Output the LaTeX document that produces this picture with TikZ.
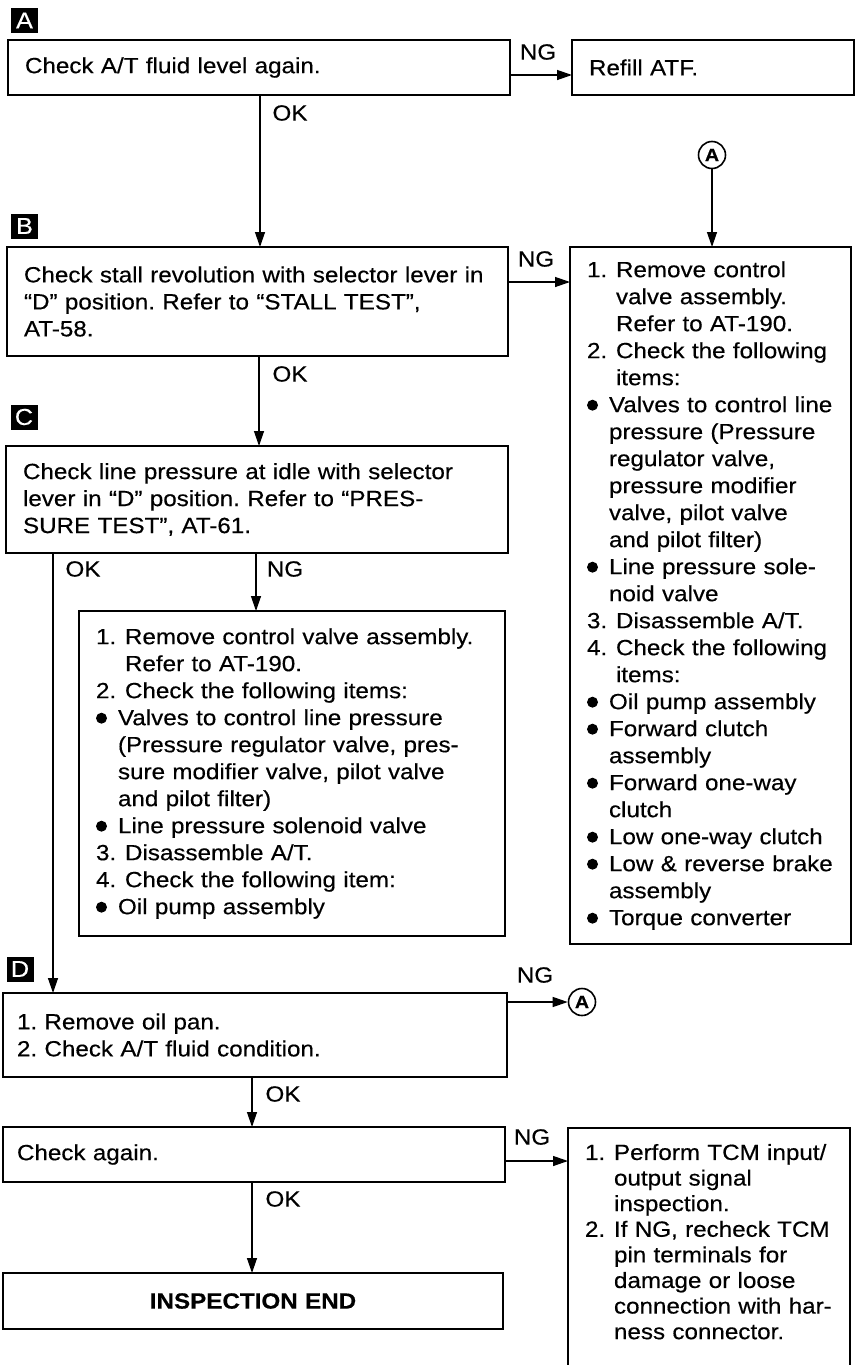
\documentclass[tikz,border=0pt]{standalone}
\usepackage{fontspec}
\setmainfont{Liberation Sans}[FakeStretch=1.1,FakeBold=0.4]
\usetikzlibrary{arrows.meta,calc}
\frenchspacing
\newcommand\mainfs{\fontsize{22}{27}\selectfont}
\newcommand\labfs{\fontsize{23}{23}\selectfont}
\newcommand\circfs{\fontsize{18}{18}\selectfont\bfseries}
\newcommand\numi[2]{\makebox[29pt][l]{#1}#2}
\newcommand\numc[1]{\hspace*{29pt}#1}
\newcommand\bulmark{\tikz[baseline=0pt]\fill (5.5pt,7pt) circle[radius=5.5pt];}
\newcommand\buli[1]{\makebox[22pt][l]{\bulmark}#1}
\newcommand\bulc[1]{\hspace*{22pt}#1}
\tikzset{
  box/.style={draw, line width=1.5pt, rectangle, anchor=north west, inner xsep=17pt,
    inner ysep=0pt, outer sep=0pt, align=left, font=\mainfs},
  lbl/.style={fill=black, text=white, inner sep=0pt, minimum width=27pt,
    minimum height=25pt, font=\labfs},
  conn/.style={line width=1.3pt, -{Triangle[length=15pt,width=10pt]}},
  tag/.style={font=\mainfs, inner sep=0pt},
  circA/.style={circle, draw, line width=1.6pt, inner sep=0pt, minimum size=27pt, font=\circfs},
}
\begin{document}
\begin{tikzpicture}[x=1pt,y=-1pt]
\useasboundingbox[fill=white] (0,0) rectangle (856,1365);

% section labels
\node[lbl] (lA) at (24.5,20.5) {A};
\node[lbl] (lB) at (24.5,226) {B};
\node[lbl] (lC) at (24,417) {C};
\node[lbl] (lD) at (20,969) {D};

% boxes
\node[box, minimum width=502pt, text width=468pt, minimum height=55pt] (b1) at (8,40)
  {Check A/T fluid level again.};
\node[box, minimum width=282pt, text width=248pt, minimum height=55pt] (refill) at (572,40)
  {Refill ATF.};
\node[box, minimum width=501pt, text width=467pt, minimum height=109pt] (bB) at (7,247)
  {Check stall revolution with selector lever in\\
   “D” position. Refer to “STALL TEST”,\\
   AT-58.};
\node[box, minimum width=281pt, text width=247pt, minimum height=697pt] (rB) at (570,247)
  {\numi{1.}{Remove control}\\
   \numc{valve assembly.}\\
   \numc{Refer to AT-190.}\\
   \numi{2.}{Check the following}\\
   \numc{items:}\\
   \buli{Valves to control line}\\
   \bulc{pressure (Pressure}\\
   \bulc{regulator valve,}\\
   \bulc{pressure modifier}\\
   \bulc{valve, pilot valve}\\
   \bulc{and pilot filter)}\\
   \buli{Line pressure sole-}\\
   \bulc{noid valve}\\
   \numi{3.}{Disassemble A/T.}\\
   \numi{4.}{Check the following}\\
   \numc{items:}\\
   \buli{Oil pump assembly}\\
   \buli{Forward clutch}\\
   \bulc{assembly}\\
   \buli{Forward one-way}\\
   \bulc{clutch}\\
   \buli{Low one-way clutch}\\
   \buli{Low \& reverse brake}\\
   \bulc{assembly}\\
   \buli{Torque converter}};
\node[box, minimum width=502pt, text width=468pt, minimum height=107pt] (bC) at (6,446)
  {Check line pressure at idle with selector\\
   lever in “D” position. Refer to “PRES-\\
   SURE TEST”, AT-61.};
\node[box, minimum width=426pt, text width=392pt, minimum height=325pt] (iC) at (79,611)
  {\numi{1.}{Remove control valve assembly.}\\
   \numc{Refer to AT-190.}\\
   \numi{2.}{Check the following items:}\\
   \buli{Valves to control line pressure}\\
   \bulc{(Pressure regulator valve, pres-}\\
   \bulc{sure modifier valve, pilot valve}\\
   \bulc{and pilot filter)}\\
   \buli{Line pressure solenoid valve}\\
   \numi{3.}{Disassemble A/T.}\\
   \numi{4.}{Check the following item:}\\
   \buli{Oil pump assembly}};
\node[box, inner xsep=14pt, minimum width=504pt, text width=476pt, minimum height=84pt] (bD) at (3,993)
  {1. Remove oil pan.\\
   2. Check A/T fluid condition.};
\node[box, inner xsep=14pt, minimum width=502pt, text width=474pt, minimum height=55pt] (bE) at (3,1127)
  {Check again.};
\node[box, align=center, minimum width=500pt, text width=466pt, minimum height=56pt] (bF) at (3,1273)
  {\bfseries INSPECTION END};
\node[box, draw=none, inner ysep=16pt, minimum width=282pt, text width=248pt,
  font=\fontsize{22}{25.6}\selectfont] (rE) at (568,1128)
  {\numi{1.}{Perform TCM input/}\\
   \numc{output signal}\\
   \numc{inspection.}\\
   \numi{2.}{If NG, recheck TCM}\\
   \numc{pin terminals for}\\
   \numc{damage or loose}\\
   \numc{connection with har-}\\
   \numc{ness connector.}};
\draw[line width=1.5pt] (rE.north west) ++(0,260) -- (rE.north west) -- (rE.north east) -- ++(0,260);

% circled A
\node[circA] (cA1) at (712,155) {A};
\node[circA] (cA2) at (582,1002) {A};

% x positions of vertical connectors
\coordinate (x1) at (260,0);
\coordinate (x2) at (259,0);
\coordinate (x3) at (53,0);
\coordinate (x4) at (256,0);
\coordinate (x5) at (252,0);

% connectors
\draw[conn] ([yshift=-7.5pt]b1.east) -- ([yshift=-7.5pt]b1.east -| refill.west);
\draw[conn] (b1.south -| x1) -- (bB.north -| x1);
\draw[conn] (cA1.south) -- (cA1.south |- rB.north);
\draw[conn] ([yshift=19.5pt]bB.east) -- ([yshift=19.5pt]bB.east -| rB.west);
\draw[conn] (bB.south -| x2) -- (bC.north -| x2);
\draw[conn] (bC.south -| x3) -- (bD.north -| x3);
\draw[conn] (bC.south -| x4) -- (iC.north -| x4);
\draw[conn] ([yshift=33pt]bD.east) -- (cA2.west);
\draw[conn] (bD.south -| x5) -- (bE.north -| x5);
\draw[conn] ([yshift=-6.5pt]bE.east) -- ([yshift=-6.5pt]bE.east -| rE.west);
\draw[conn] (bE.south -| x5) -- (bF.north -| x5);

% connector labels
\node[tag] (ng1) at (538,52) {NG};
\node[tag] (ok1) at (290,113) {OK};
\node[tag] (ng2) at (536,259) {NG};
\node[tag] (ok2) at (290,374) {OK};
\node[tag] (ok3) at (83,569) {OK};
\node[tag] (ng3) at (285,569) {NG};
\node[tag] (ng4) at (535,975) {NG};
\node[tag] (ok4) at (283,1094) {OK};
\node[tag] (ng5) at (532,1137) {NG};
\node[tag] (ok5) at (283,1199) {OK};
\end{tikzpicture}
\end{document}
